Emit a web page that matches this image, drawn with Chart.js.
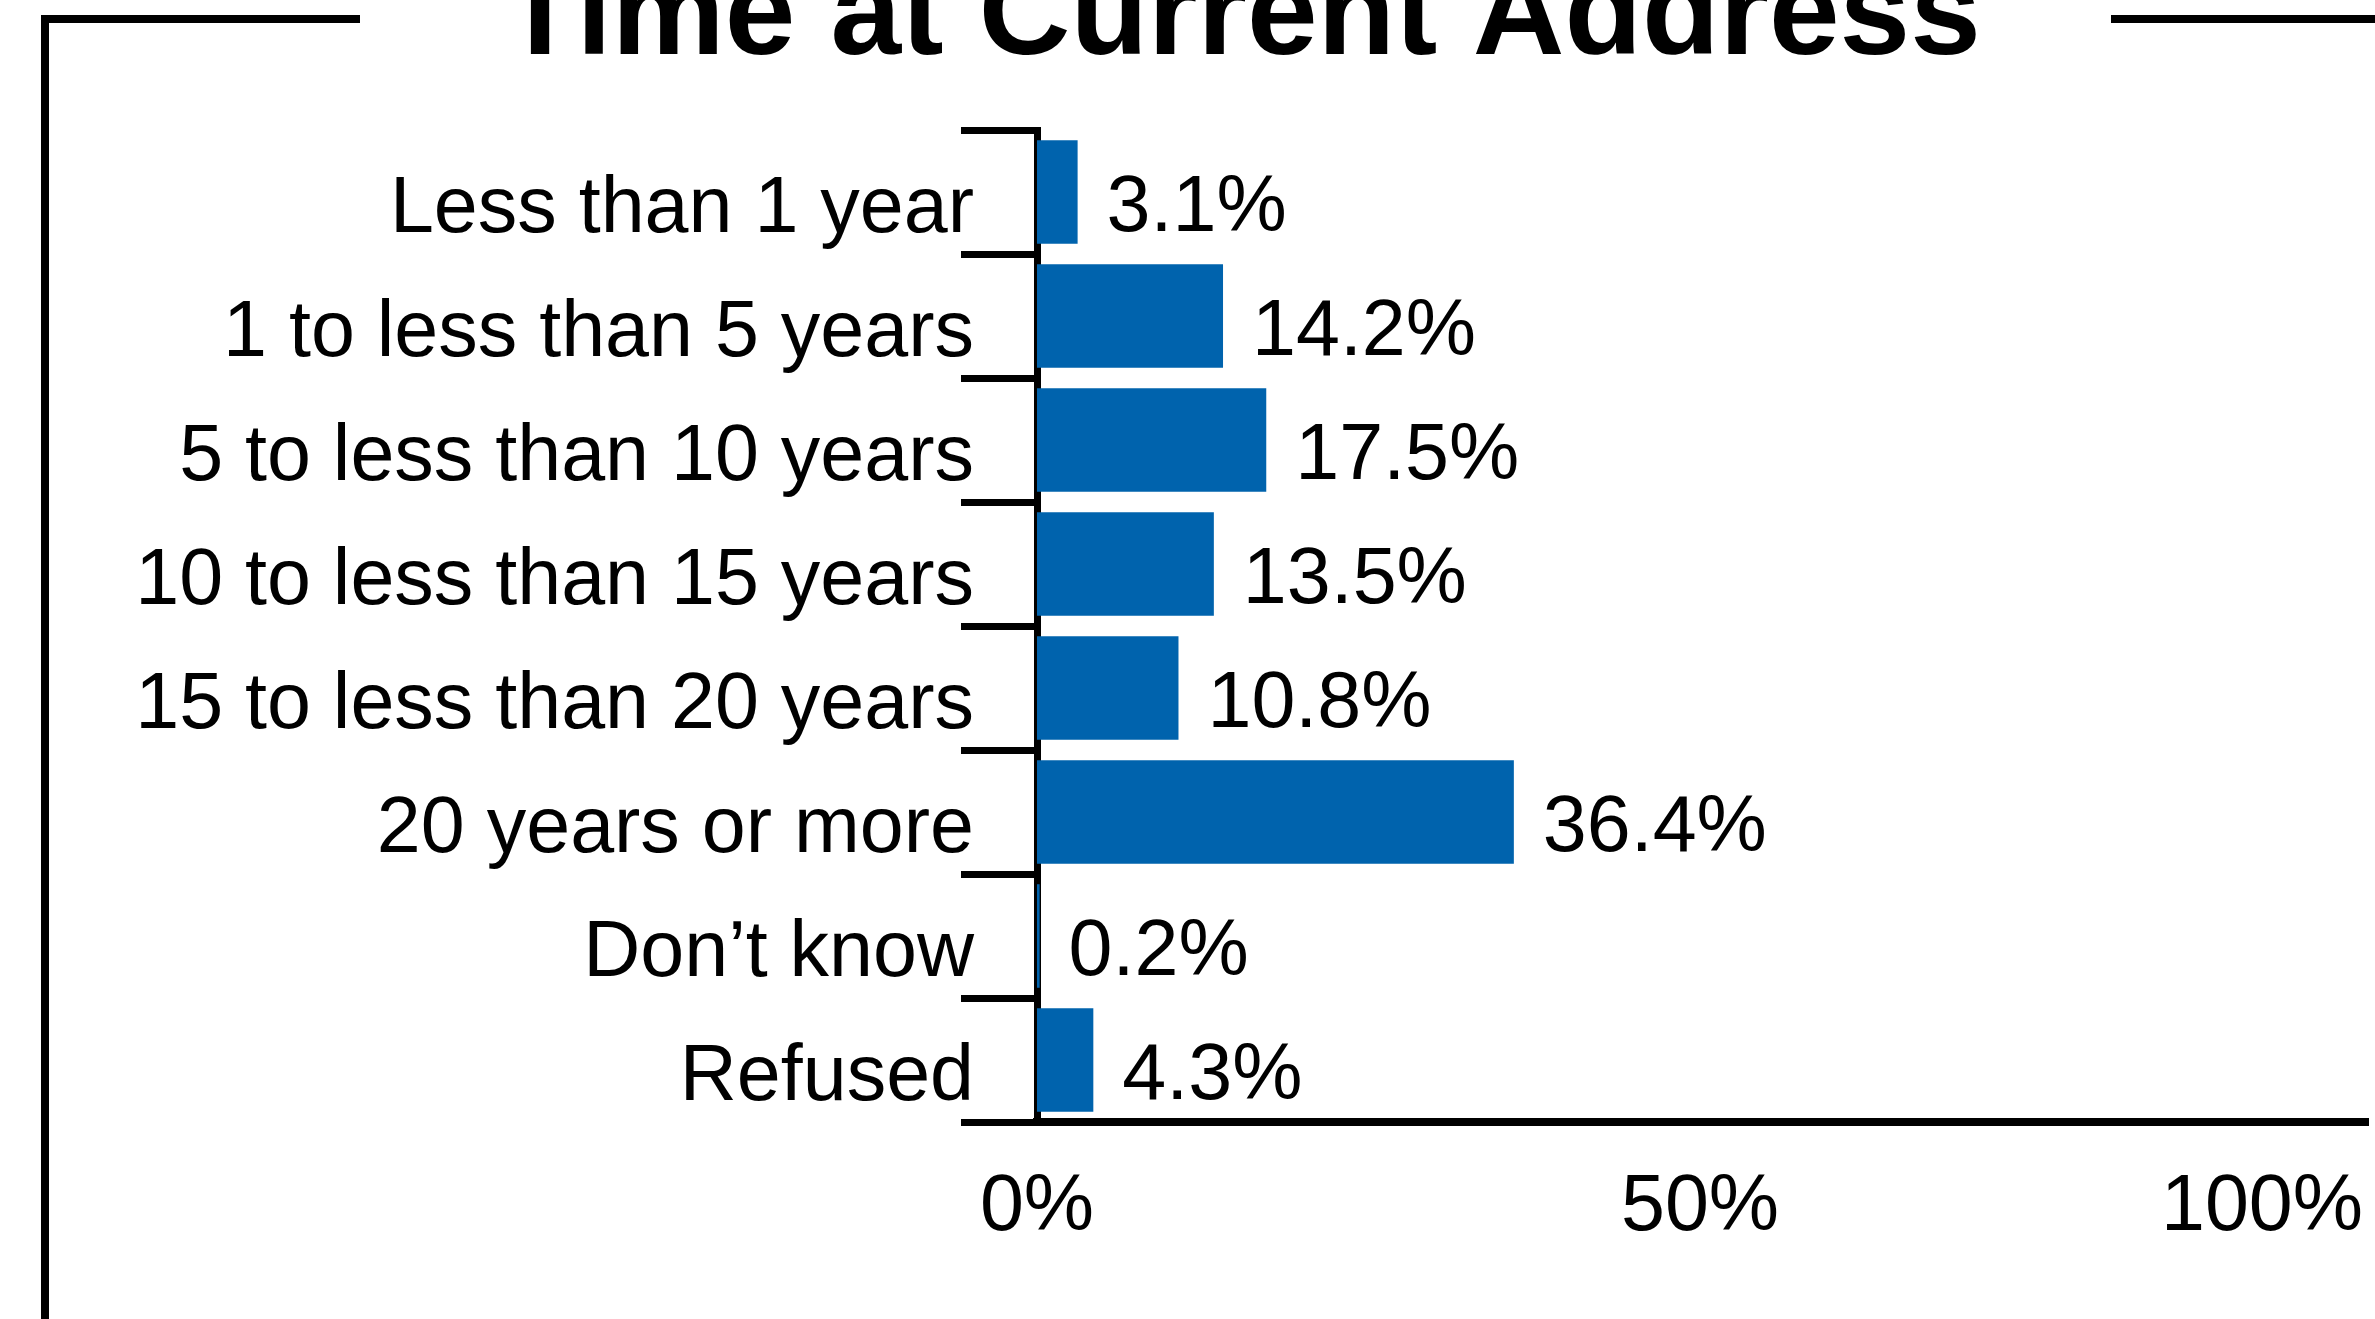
<!DOCTYPE html>
<html>
<head>
<meta charset="utf-8">
<title>Time at Current Address</title>
<script src="https://cdn.jsdelivr.net/npm/chart.js@4.4.1/dist/chart.umd.min.js"></script>
<style>
  html, body { margin: 0; padding: 0; background: #fff; }
  #wrap { position: relative; width: 2375px; height: 1319px; }
</style>
</head>
<body>
<div id="wrap"><canvas id="addressChart"></canvas></div>
<script>
const chartTitle = 'Time at Current Address';
const categories = [
    'Less than 1 year',
    '1 to less than 5 years',
    '5 to less than 10 years',
    '10 to less than 15 years',
    '15 to less than 20 years',
    '20 years or more',
    'Don\u2019t know',
    'Refused'
];
const percentages = [3.1, 14.2, 17.5, 13.5, 10.8, 36.4, 0.2, 4.3];
const xTickValues = [0, 50, 100];

const FONT = '"Liberation Sans", Arial, sans-serif';
Chart.defaults.font.family = FONT;
Chart.defaults.color = '#000';

// Box outline with the title sitting in a gap of the top edge
const framePlugin = {
    id: 'frame',
    afterDraw(chart) {
        const ctx = chart.ctx;
        ctx.save();
        ctx.strokeStyle = '#000';
        ctx.lineWidth = 8;
        ctx.lineJoin = 'miter';
        ctx.beginPath();
        ctx.moveTo(45, chart.height);
        ctx.lineTo(45, 19);
        ctx.lineTo(360, 19);
        ctx.moveTo(2111, 19);
        ctx.lineTo(chart.width, 19);
        ctx.stroke();

        ctx.font = 'bold 127px ' + FONT;
        ctx.fillStyle = '#000';
        ctx.textAlign = 'center';
        ctx.textBaseline = 'alphabetic';
        ctx.fillText(chartTitle, 1241, 54);
        ctx.restore();
    }
};

// Percentage text to the right of each bar
const valueLabels = {
    id: 'valueLabels',
    afterDatasetsDraw(chart) {
        const ctx = chart.ctx;
        const meta = chart.getDatasetMeta(0);
        ctx.save();
        ctx.font = '79px ' + FONT;
        ctx.fillStyle = '#000';
        ctx.textAlign = 'left';
        ctx.textBaseline = 'alphabetic';
        meta.data.forEach((bar, i) => {
            ctx.fillText(percentages[i].toFixed(1) + '%', bar.x + 29, bar.y + 39);
        });
        ctx.restore();
    }
};

// x axis labels, last one pulled back inside the plot edge
const xTickLabels = {
    id: 'xTickLabels',
    afterDraw(chart) {
        const ctx = chart.ctx;
        const scale = chart.scales.x;
        ctx.save();
        ctx.font = '79px ' + FONT;
        ctx.fillStyle = '#000';
        ctx.textAlign = 'center';
        ctx.textBaseline = 'alphabetic';
        xTickValues.forEach(v => {
            const label = v + '%';
            const w = ctx.measureText(label).width;
            let x = scale.getPixelForValue(v) + (v > 0 ? 8 : 0);
            x = Math.min(x, chart.chartArea.right - 5 - w / 2);
            ctx.fillText(label, x, scale.top + 108);
        });
        ctx.restore();
    }
};

const ctx = document.getElementById('addressChart').getContext('2d');
const addressChart = new Chart(ctx, {
    type: 'bar',
    data: {
        labels: categories,
        datasets: [{
            data: percentages,
            backgroundColor: '#0063ad',
            borderWidth: 0,
            barPercentage: 0.835,
            categoryPercentage: 1.0
        }]
    },
    options: {
        indexAxis: 'y',
        responsive: true,
        maintainAspectRatio: false,
        animation: false,
        layout: {
            padding: { top: 130, right: 7, bottom: 0, left: 0 }
        },
        plugins: {
            legend: { display: false },
            title: { display: false },
            tooltip: { enabled: false }
        },
        scales: {
            x: {
                min: 0,
                max: 101.6,
                grid: { display: false },
                border: { display: true, color: '#000', width: 8 },
                ticks: { display: false },
                afterFit(scale) { scale.height = 197; }
            },
            y: {
                z: 1,
                grid: {
                    display: true,
                    drawOnChartArea: false,
                    drawTicks: true,
                    tickLength: 76,
                    lineWidth: 7,
                    color: '#000',
                    offset: true
                },
                border: { display: true, color: '#000', width: 7 },
                ticks: {
                    color: '#000',
                    font: { size: 79 },
                    padding: -13,
                    labelOffset: 18,
                    autoSkip: false
                },
                afterFit(scale) { scale.width = 1037; }
            }
        }
    },
    plugins: [framePlugin, valueLabels, xTickLabels]
});
</script>
</body>
</html>
